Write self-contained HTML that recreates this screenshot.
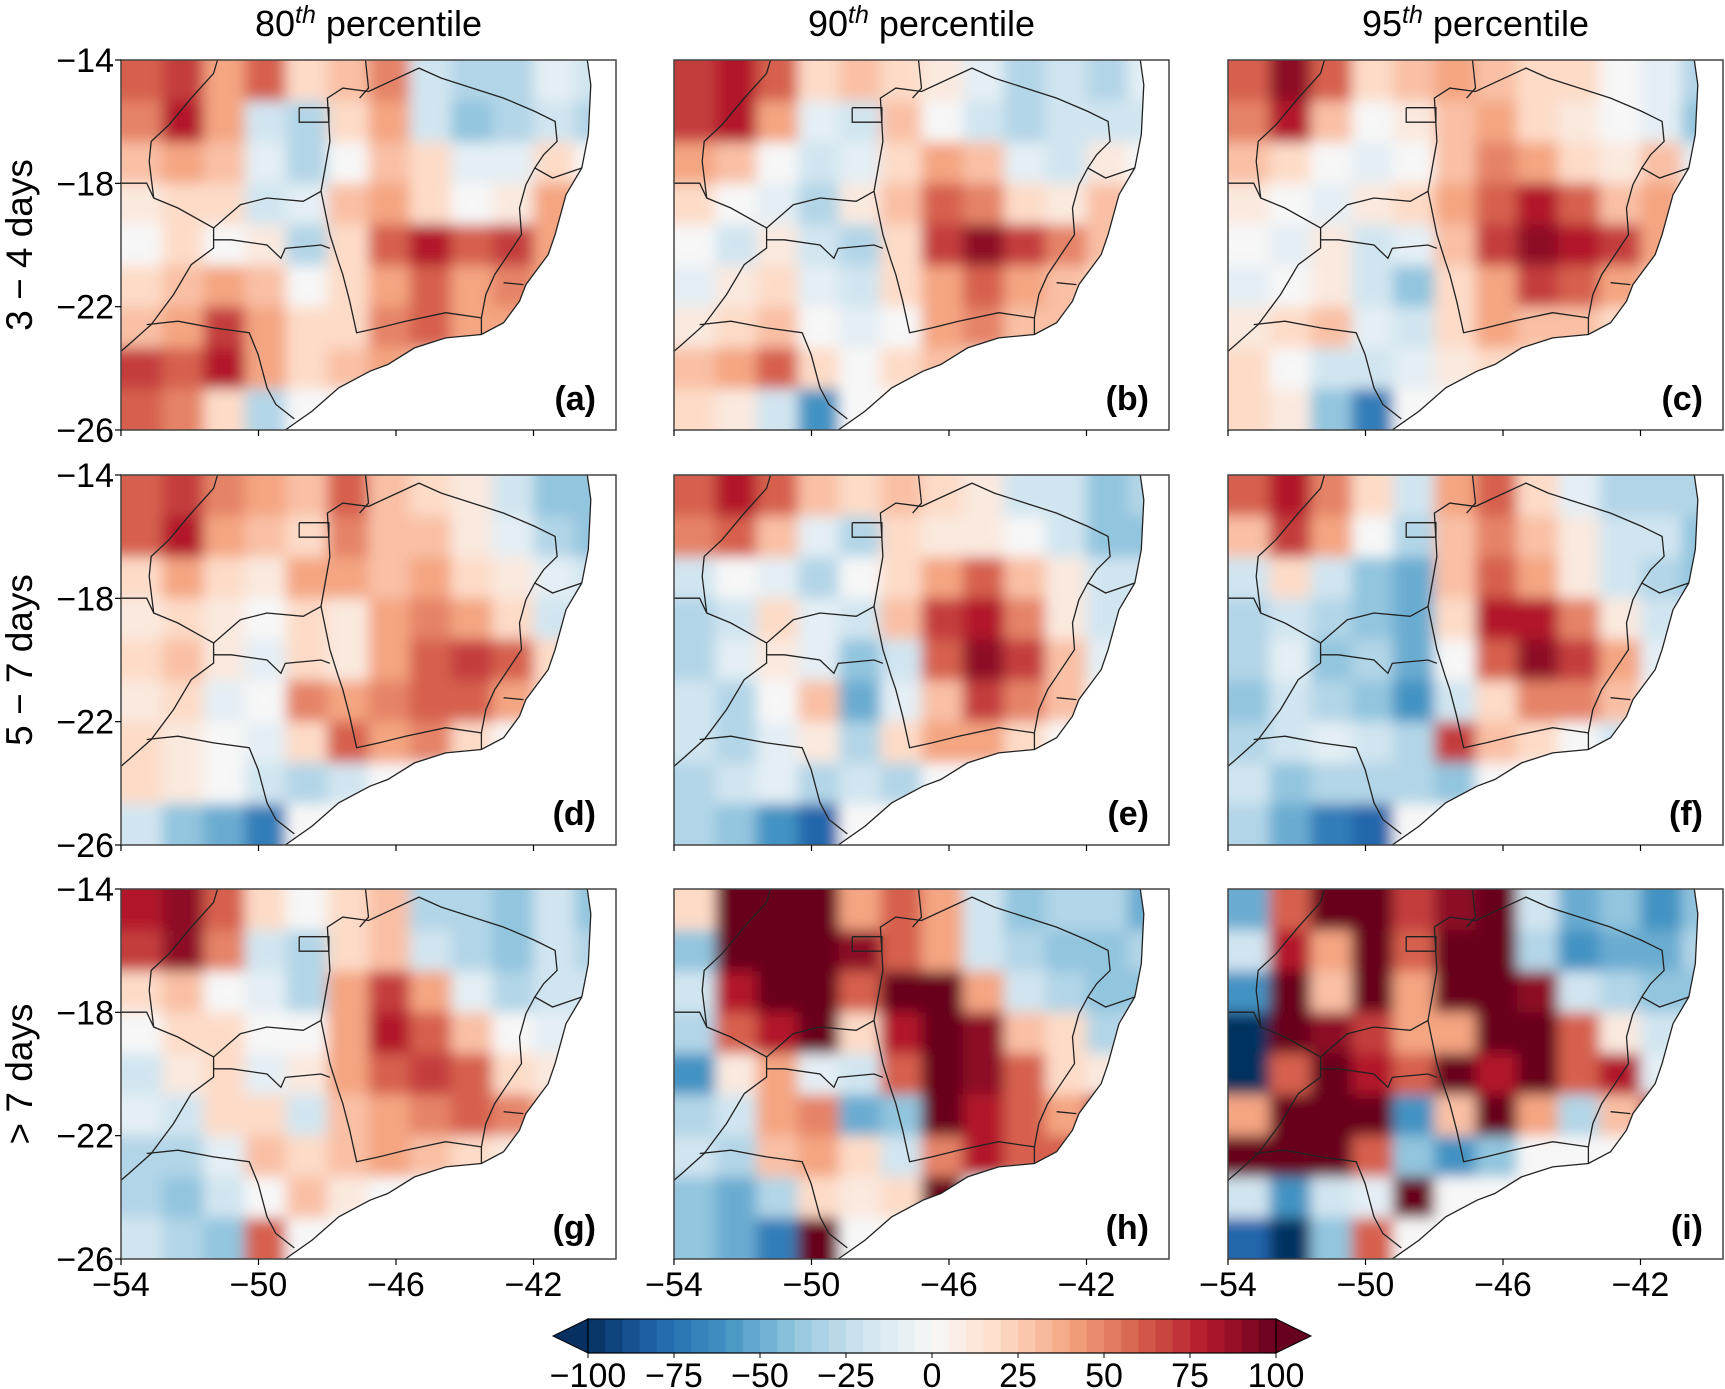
<!DOCTYPE html>
<html><head><meta charset="utf-8">
<style>
html,body{margin:0;padding:0;background:#fff;}
svg{display:block;font-family:"Liberation Sans",sans-serif;}
</style></head>
<body>
<svg id="fig" width="1725" height="1389" viewBox="0 0 1725 1389" xmlns="http://www.w3.org/2000/svg">
<defs>
<filter id="blur" x="-10%" y="-10%" width="120%" height="120%"><feGaussianBlur stdDeviation="7"/></filter>
</defs>
</svg>
<script>
// ---- data ----
const lonTicks=[-54,-50,-46,-42];
const latTicks=[-14,-18,-22,-26];
const cbTicks=[-100,-75,-50,-25,0,25,50,75,100];
const colTitles=["80","90","95"];
const rowTitles=["3 \u2212 4 days","5 \u2212 7 days","> 7 days"];
const panelLetters=["(a)","(b)","(c)","(d)","(e)","(f)","(g)","(h)","(i)"];
const panelA=[[60,70,40,60,20,30,50,-20,-30,-30,-10,-20],[50,80,40,-20,-30,20,40,-20,-40,-30,-20,-30],[30,40,30,-10,-30,0,30,20,-10,-10,20,0],[10,20,20,-20,-10,30,40,20,0,10,40,40],[0,20,0,10,-30,20,60,80,60,70,40,30],[20,30,40,30,0,20,40,60,40,50,40,20],[30,40,70,40,20,20,50,60,40,40,30,0],[70,60,80,40,20,30,40,30,0,0,0,0],[60,50,20,-30,0,0,0,0,0,0,0,0]];
const panelB=[[70,80,60,20,30,20,10,-10,-30,-20,-30,-10],[70,80,40,-10,-20,30,0,-20,-30,-20,-20,-20],[40,30,0,-20,-10,20,40,30,-10,-20,10,0],[20,0,-10,-30,10,30,60,50,20,10,30,20],[0,-20,10,-20,-30,20,70,90,70,50,30,20],[-10,10,20,-10,-20,20,40,60,40,30,20,20],[10,20,30,0,-10,0,40,50,30,30,20,0],[30,40,60,20,0,20,30,20,0,0,0,0],[20,10,-20,-60,0,0,0,0,0,0,0,0]];
const panelC=[[60,90,60,20,30,40,30,20,20,0,-10,-30],[50,80,30,0,10,30,40,20,10,0,-10,-40],[30,20,0,-10,0,30,50,40,20,10,30,-10],[10,0,-10,10,20,40,60,80,60,30,40,20],[0,-10,10,-20,-10,30,70,90,80,70,40,20],[-10,0,10,-20,-40,20,40,70,60,40,30,10],[10,20,30,-10,-20,20,40,30,30,20,20,0],[20,0,-20,-20,-10,10,20,20,0,0,0,0],[20,10,-40,-70,0,0,0,0,0,0,0,0]];
const panelD=[[60,70,50,40,30,60,30,20,10,-20,-40,-40],[60,80,40,30,20,50,30,30,10,-10,-30,-40],[20,40,20,10,40,40,30,40,20,10,-10,-20],[10,20,10,0,20,10,40,50,40,20,-20,-10],[20,30,10,-10,20,10,40,60,70,60,20,10],[10,20,-10,0,50,40,50,60,60,40,20,0],[20,10,0,-10,20,60,40,50,20,0,0,0],[20,10,0,-20,-30,-20,0,0,0,0,0,0],[-20,-40,-50,-70,0,0,0,0,0,0,0,0]];
const panelE=[[60,80,60,30,20,30,20,10,-20,-20,-40,-30],[50,60,30,-10,-30,20,10,10,0,-20,-40,-40],[-20,0,-10,-30,0,20,40,60,30,10,-20,-20],[-30,-20,20,-10,-20,30,70,80,50,10,-20,-20],[-30,-10,10,-10,-40,-20,60,90,70,30,-10,-10],[-20,-30,0,30,-50,-10,30,70,50,30,0,0],[-20,-30,-10,10,-30,20,40,40,20,0,0,0],[-30,-20,-10,-30,-20,-30,0,0,0,0,0,0],[-30,-40,-60,-80,0,0,0,0,0,0,0,0]];
const panelF=[[60,80,50,20,-20,40,60,20,-10,-30,-30,-30],[30,70,40,0,-30,30,50,30,10,-20,-20,-40],[-20,20,-20,-40,-50,30,60,40,10,-20,-30,-40],[-30,-20,-30,-40,-50,20,80,80,50,10,-20,-20],[-30,-10,-40,-30,-50,0,60,90,70,40,-10,-20],[-40,-20,-30,-40,-60,-20,20,50,50,30,0,0],[-30,-20,-10,-20,-30,70,30,20,0,-20,0,0],[-20,-40,-30,-30,-30,-40,0,0,0,0,0,0],[-30,-50,-70,-80,0,0,0,0,0,0,0,0]];
const panelG=[[80,90,60,20,0,20,30,-30,-30,-40,-20,-40],[70,90,50,-20,-30,20,30,-20,-30,-40,-20,-30],[20,30,0,-10,-30,40,70,40,-10,-30,-20,-20],[0,20,20,0,0,40,80,60,30,0,-10,-20],[-20,10,20,-10,10,40,60,70,60,20,10,0],[-10,-20,20,20,-20,30,40,50,60,50,30,0],[-30,-30,-10,30,20,30,40,30,20,10,0,0],[-30,-40,-20,0,30,10,0,0,0,0,0,0],[-20,-30,-40,60,0,0,0,0,0,0,0,0]];
const panelH=[[20,100,100,100,40,60,40,-20,-40,-30,-30,-50],[-40,100,100,100,90,60,40,-20,-30,-40,-40,-30],[-20,80,100,100,60,100,100,40,-20,-30,-40,-40],[-30,60,80,100,20,80,100,90,30,20,-30,-10],[-60,10,40,-10,-20,60,100,90,60,20,10,0],[-30,-20,40,50,-50,-40,100,80,60,40,80,0],[-20,-30,30,40,20,-20,50,80,60,60,0,0],[-40,-50,-30,20,10,20,100,0,0,0,0,0],[-40,-50,-70,100,0,0,0,0,0,0,0,0]];
const panelI=[[-50,60,100,100,70,90,100,-20,-50,-40,-60,-40],[-20,80,40,100,60,100,100,-30,-60,-50,-50,-30],[-60,100,30,100,40,100,100,90,-20,-30,-40,-40],[-100,100,90,70,40,40,100,100,60,10,-20,-20],[-100,60,100,80,60,100,80,100,60,80,-10,10],[40,100,100,100,-60,30,100,40,-30,30,80,0],[100,100,100,60,-40,-60,-40,0,0,0,0,0],[-20,-60,-20,-10,100,0,0,0,0,0,0,0],[-80,-100,-40,60,0,0,0,0,0,0,0,0]];
const panels=[panelA,panelB,panelC,panelD,panelE,panelF,panelG,panelH,panelI];

// ---- geometry ----
const NS="http://www.w3.org/2000/svg";
const svg=document.getElementById('fig');
const defs=svg.querySelector('defs');
const colX=[121,674,1228], rowY=[60,475,889], PW=495, PH=370;
const lonMin=-54, lonMax=-39.6, latMax=-14, latMin=-26;
function xScale(p,lon){return colX[p%3]+(lon-lonMin)/(lonMax-lonMin)*PW;}
function yScale(p,lat){return rowY[Math.floor(p/3)]+(latMax-lat)/(latMax-latMin)*PH;}
const stops=[[-100,[5,48,97]],[-80,[33,102,172]],[-60,[67,147,195]],[-40,[146,197,222]],[-20,[209,229,240]],[0,[247,247,247]],[20,[253,219,199]],[40,[244,165,130]],[60,[214,96,77]],[80,[178,24,43]],[100,[103,0,31]]];
function cmap(v){v=Math.max(-100,Math.min(100,v));for(let i=0;i<stops.length-1;i++){const a=stops[i],b=stops[i+1];if(v<=b[0]){const t=(v-a[0])/(b[0]-a[0]);const c=a[1].map((x,k)=>Math.round(x+(b[1][k]-x)*t));return `rgb(${c})`;}}return 'rgb(103,0,31)';}
function el(tag,attrs,parent){const e=document.createElementNS(NS,tag);for(const k in attrs)e.setAttribute(k,attrs[k]);(parent||svg).appendChild(e);return e;}
const coast=[[0.942,0],[0.949,0.067],[0.944,0.202],[0.931,0.292],[0.899,0.364],[0.877,0.472],[0.863,0.526],[0.818,0.607],[0.805,0.652],[0.773,0.71],[0.728,0.742],[0.656,0.751],[0.593,0.778],[0.539,0.823],[0.503,0.841],[0.44,0.886],[0.386,0.949],[0.332,1]];
const borders=[
[[0.195,0],[0.187,0.036],[0.142,0.103],[0.097,0.175],[0.061,0.22],[0.057,0.274],[0.066,0.373],[0.115,0.4],[0.187,0.454],[0.241,0.391],[0.295,0.373],[0.368,0.382],[0.404,0.355],[0.422,0.22],[0.417,0.103],[0.448,0.076],[0.5,0.085],[0.602,0.022],[0.647,0.049],[0.71,0.076],[0.773,0.103],[0.836,0.139],[0.877,0.166],[0.881,0.22],[0.854,0.256],[0.836,0.292],[0.872,0.319],[0.931,0.292]],
[[0.836,0.292],[0.818,0.337],[0.805,0.4],[0.809,0.472],[0.773,0.544],[0.755,0.58],[0.737,0.634],[0.728,0.697],[0.728,0.742]],
[[0.728,0.697],[0.656,0.683],[0.575,0.706],[0.521,0.724],[0.476,0.737],[0.471,0.706],[0.462,0.652],[0.448,0.58],[0.439,0.544],[0.422,0.472],[0.404,0.355]],
[[0,0.333],[0.052,0.333],[0.066,0.373]],
[[0.187,0.454],[0.187,0.508],[0.142,0.553],[0.106,0.634],[0.061,0.715],[0.016,0.769],[0,0.787]],
[[0.187,0.486],[0.223,0.486],[0.295,0.5],[0.323,0.536],[0.332,0.509],[0.404,0.5],[0.422,0.509]],
[[0.052,0.715],[0.115,0.706],[0.187,0.724],[0.259,0.737],[0.277,0.796],[0.295,0.886],[0.313,0.931],[0.35,0.97]],
[[0.773,0.602],[0.813,0.607]],
[[0.494,0],[0.5,0.076],[0.482,0.103]],
[[0.36,0.129],[0.42,0.129],[0.42,0.168],[0.36,0.168],[0.36,0.129]]];
function pts(p,arr){return arr.map(q=>`${(colX[p%3]+q[0]*PW).toFixed(1)},${(rowY[Math.floor(p/3)]+q[1]*PH).toFixed(1)}`).join(' ');}

panels.forEach((grid,p)=>{
  const x0=colX[p%3], y0=rowY[Math.floor(p/3)];
  const g=el('g',{});
  
  
  const cp=el('clipPath',{id:'land'+p},defs);
  el('polygon',{points:`${x0},${y0} `+pts(p,coast)+` ${x0},${y0+PH}`},cp);
  const clipG=el('g',{'clip-path':`url(#land${p})`},g);
  const field=el('g',{filter:'url(#blur)'},clipG);
  const nr=grid.length, nc=grid[0].length;
  const dLon=(lonMax-lonMin)/nc, dLat=(latMax-latMin)/nr;
  grid.forEach((row,r)=>row.forEach((v,c)=>{
    let xa=xScale(p,lonMin+c*dLon), xb=xScale(p,lonMin+(c+1)*dLon);
    let ya=yScale(p,latMax-r*dLat), yb=yScale(p,latMax-(r+1)*dLat);
    if(c===0)xa-=30; if(c===nc-1)xb+=30; if(r===0)ya-=30; if(r===nr-1)yb+=30;
    const rc=el('rect',{x:xa.toFixed(1),y:ya.toFixed(1),width:(xb-xa+0.6).toFixed(1),height:(yb-ya+0.6).toFixed(1),fill:cmap(v)},field);
    
    
  }));
  const bd=el('g',{fill:'none',stroke:'#222','stroke-width':'1.3'},g);
  
  
  el('polyline',{points:pts(p,coast)},bd);
  borders.forEach(b=>el('polyline',{points:pts(p,b)},bd));
  const fr=el('rect',{x:x0,y:y0,width:PW,height:PH,fill:'none',stroke:'#444','stroke-width':'1.5'},g);
  
  
  const lt=el('text',{x:x0+PW-20,y:y0+PH-20,'text-anchor':'end','font-size':'34','font-weight':'bold',fill:'#000'},g);
  lt.textContent=panelLetters[p];
  
  
  if(p%3===0){
    latTicks.forEach(t=>{
      const y=yScale(p,t);
      el('line',{x1:x0-6,x2:x0,y1:y,y2:y,stroke:'#000','stroke-width':'1.2'},g);
      const tx=el('text',{x:x0-7,y:y+12,'text-anchor':'end','font-size':'34',fill:'#000'},g);
      tx.textContent=String(t).replace('-','\u2212');
      
      
    });
  }
  lonTicks.forEach(t=>{
    const x=xScale(p,t);
    el('line',{x1:x,x2:x,y1:y0+PH,y2:y0+PH+6,stroke:'#000','stroke-width':'1.2'},g);
    if(p>=6){
      const tx=el('text',{x:x,y:y0+PH+37,'text-anchor':'middle','font-size':'34',fill:'#000'},g);
      tx.textContent=String(t).replace('-','\u2212');
      
      
    }
  });
});
colTitles.forEach((t,i)=>{
  const tx=el('text',{x:colX[i]+PW/2,y:36,'text-anchor':'middle','font-size':'36',fill:'#000'});
  
  
  tx.innerHTML=`${t}<tspan font-size="25" font-style="italic" dy="-13">th</tspan><tspan dy="13"> percentile</tspan>`;
});
rowTitles.forEach((t,i)=>{
  const cy=rowY[i]+PH/2, cx=32;
  const tx=el('text',{x:cx,y:cy,'text-anchor':'middle','font-size':'37',fill:'#000',transform:`rotate(-90 ${cx} ${cy})`});
  tx.textContent=t;
  
  
});
// colorbar
const cbX0=588, cbX1=1276, cbY=1319, cbH=34;
const cb=el('g',{});


function cbx(v){return cbX0+(v+100)/200*(cbX1-cbX0);}
const nb=40;
for(let i=0;i<nb;i++){
  const a=-100+i*200/nb,b=a+200/nb;
  el('rect',{x:cbx(a).toFixed(1),y:cbY,width:(cbx(b)-cbx(a)+0.5).toFixed(1),height:cbH,fill:cmap((a+b)/2)},cb);
}
el('polygon',{points:`${cbX0},${cbY} ${cbX0-35},${cbY+cbH/2} ${cbX0},${cbY+cbH}`,fill:cmap(-100),stroke:'#000','stroke-width':'1'},cb);
el('polygon',{points:`${cbX1},${cbY} ${cbX1+35},${cbY+cbH/2} ${cbX1},${cbY+cbH}`,fill:cmap(100),stroke:'#000','stroke-width':'1'},cb);
el('rect',{x:cbX0,y:cbY,width:cbX1-cbX0,height:cbH,fill:'none',stroke:'#000','stroke-width':'1.2'},cb);
cbTicks.forEach(t=>{
  const x=cbx(t);
  el('line',{x1:x,x2:x,y1:cbY+cbH,y2:cbY+cbH+5,stroke:'#000'},cb);
  const tx=el('text',{x:x,y:1387,'text-anchor':'middle','font-size':'34',fill:'#000'},cb);
  tx.textContent=String(t).replace('-','\u2212');
  
  
});
</script>
</body></html>
